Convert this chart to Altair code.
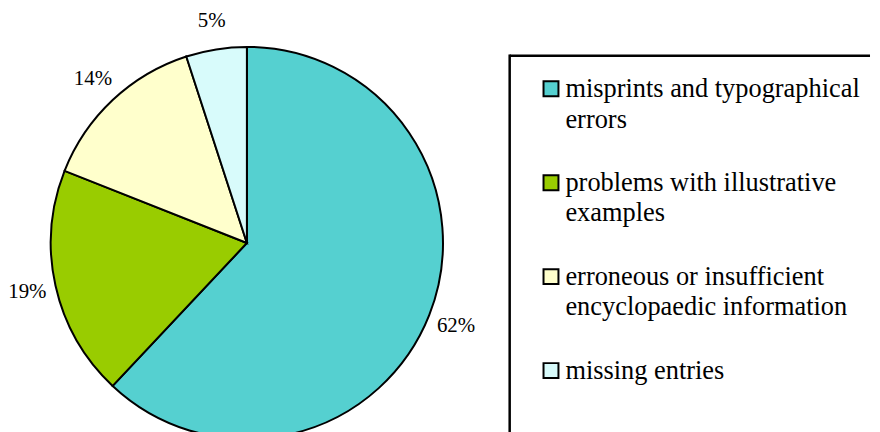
import altair as alt
import pandas as pd

categories = [
    "misprints and typographical\nerrors",
    "problems with illustrative\nexamples",
    "erroneous or insufficient\nencyclopaedic information",
    "missing entries",
]
values = [62, 19, 14, 5]
colors = ["#55D0D0", "#99CC00", "#FFFFCC", "#D8FBFB"]

df = pd.DataFrame({
    "category": categories,
    "value": values,
    "row": list(range(len(categories))),
})

color_scale = alt.Scale(domain=categories, range=colors)
FONT = "Liberation Serif"

base = alt.Chart(df).encode(
    theta=alt.Theta("value:Q", stack=True),
    order=alt.Order("row:Q"),
)

pie = base.mark_arc(outerRadius=197, stroke="black", strokeWidth=2).encode(
    color=alt.Color("category:N", scale=color_scale, legend=None)
)

labels = base.transform_calculate(
    pct="datum.value + '%'"
).mark_text(radius=226, font=FONT, fontSize=21, color="black").encode(
    text="pct:N"
)

pie_panel = alt.layer(pie, labels).properties(width=476, height=376)

LW, LH = 362, 420
yscale = alt.Scale(domain=[-0.35, 4.1], reverse=True)
leg_base = alt.Chart(df).encode(
    y=alt.Y("row:Q", scale=yscale, axis=None),
)
swatches = leg_base.mark_square(size=225, stroke="black", strokeWidth=2, opacity=1).encode(
    x=alt.value(41.5),
    color=alt.Color("category:N", scale=color_scale, legend=None),
)
leg_text = leg_base.mark_text(
    font=FONT, fontSize=26.5, align="left", baseline="alphabetic",
    dy=8, lineBreak="\n", lineHeight=31, color="black",
).encode(
    x=alt.value(56),
    text="category:N",
)
frame = pd.DataFrame({"edge": ["top", "left"]})
top_rule = alt.Chart(frame).transform_filter("datum.edge == 'top'").mark_rule(
    color="black", strokeWidth=2.5
).encode(x=alt.value(0), x2=alt.value(LW), y=alt.value(0))
left_rule = alt.Chart(frame).transform_filter("datum.edge == 'left'").mark_rule(
    color="black", strokeWidth=2.5
).encode(x=alt.value(0), y=alt.value(-1.25), y2=alt.value(LH))

legend_panel = alt.layer(top_rule, left_rule, swatches, leg_text).properties(
    width=LW, height=LH,
)

chart = alt.hconcat(pie_panel, legend_panel, spacing=26, bounds="flush").properties(
    padding=0,
).configure(
    background="white", font=FONT,
    view=alt.ViewConfig(stroke="transparent", strokeWidth=0),
)

chart.save("out.html", embed_options={"renderer": "svg", "actions": False})
